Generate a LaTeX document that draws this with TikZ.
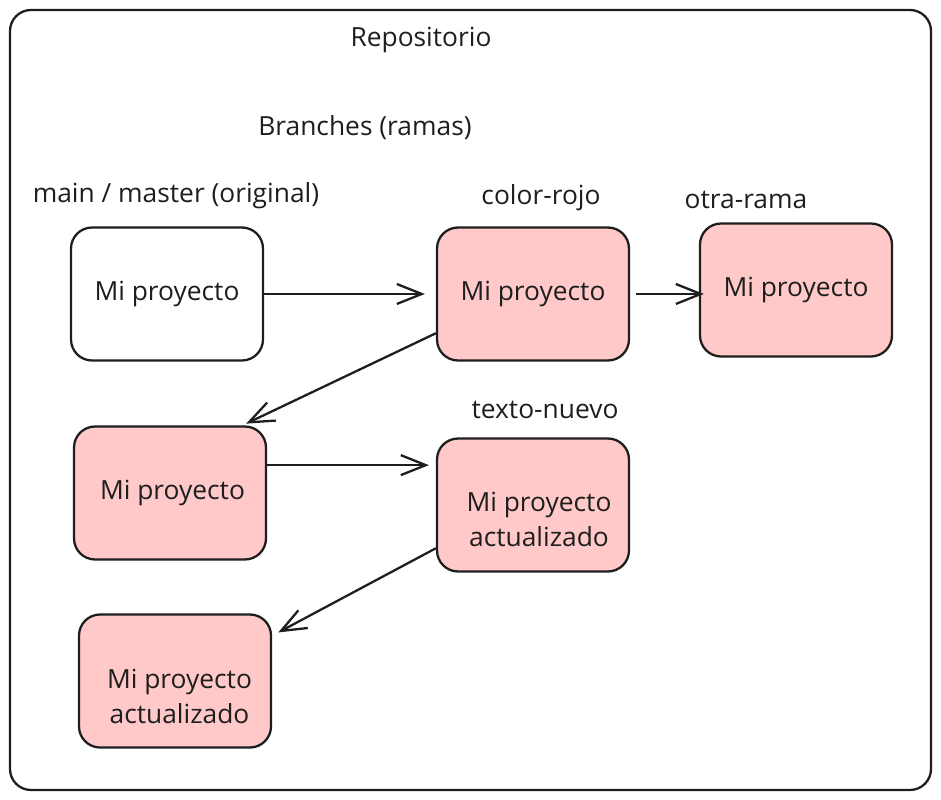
\documentclass[tikz,border=0pt]{standalone}
\usepackage{fontspec}
\setmainfont{Open Sans}
\usetikzlibrary{arrows.meta}
\definecolor{ink}{HTML}{1E1E1E}
\definecolor{rojo}{HTML}{FFC9C9}
\begin{document}
\begin{tikzpicture}[x=0.02cm,y=-0.02cm,
    caja/.style={draw=ink, line width=1.3pt, rounded corners=0.42cm,
      minimum width=3.84cm, minimum height=2.66cm, align=center,
      text=ink, font=\fontsize{15}{19.8}\selectfont},
    rama/.style={caja, fill=rojo},
    etiq/.style={text=ink, font=\fontsize{15}{17}\selectfont},
    link/.style={draw=ink, line width=1.3pt,
      -{Straight Barb[length=0.5cm, width=0.4cm, line width=1.3pt]}}]
    \useasboundingbox (0,0) rectangle (941,800);
    %\draw [thick] (0,0) rectangle (941,800);
    \draw[draw=ink, line width=1.3pt, rounded corners=0.42cm] (10,10) rectangle (931,790);
    \node[etiq] (repo) at (421,40) {Repositorio};
    \node[etiq] (ramas) at (365,128) {Branches (ramas)};
    \node[etiq] (tmain) at (176,196) {main / master (original)};
    \node[etiq] (trojo) at (541,198) {color-rojo};
    \node[etiq] (totra) at (746,200) {otra-rama};
    \node[etiq] (tnuevo) at (545,410) {texto-nuevo};
    \node[caja] (b1) at (167,294) {Mi proyecto};
    \node[rama] (b2) at (533,294) {Mi proyecto};
    \node[rama] (b3) at (796,290) {Mi proyecto};
    \node[rama] (b4) at (170,493) {\hspace{0.1cm}Mi proyecto};
    \node[rama] (b5) at (533,505) {\hspace{0.24cm}\raisebox{-0.34cm}[\height][\depth]{\begin{tabular}{@{}c@{}}Mi proyecto\\actualizado\end{tabular}}};
    \node[rama] (b6) at (175,681) {\hspace{0.18cm}\raisebox{-0.36cm}[\height][\depth]{\begin{tabular}{@{}c@{}}Mi proyecto\\actualizado\end{tabular}}};
    \draw[link, shorten >=0.22cm] (b1.east) -- (b2.west);
    \draw[link, shorten <=0.12cm, shorten >=-0.1cm] (b2.east) -- (b2.east -| b3.west);
    \draw[link, shorten >=0.08cm] (b2.202) -- (b4.43);
    \draw[link, shorten >=0.14cm] (b4.16) -- (b4.16 -| b5.west);
    \draw[link, shorten >=0.14cm] (b5.204) -- (b6.25);
  \end{tikzpicture}
\end{document}
